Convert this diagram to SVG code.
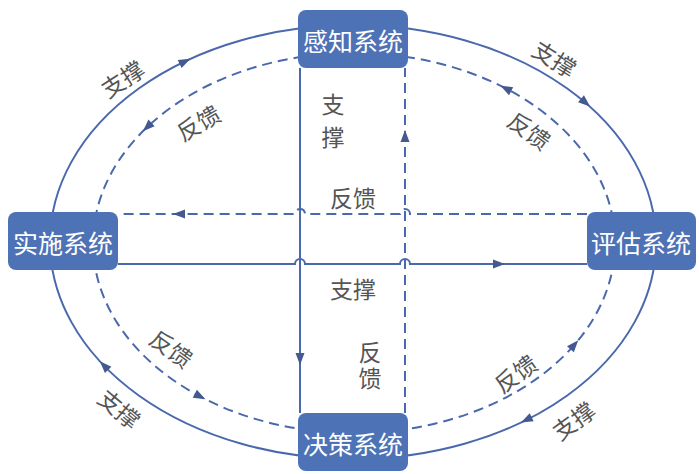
<svg xmlns="http://www.w3.org/2000/svg" width="699" height="474" viewBox="0 0 699 474">
<defs>
<style>
.solid{fill:none;stroke:#4a69ad;stroke-width:2}
.dash{fill:none;stroke:#4a69ad;stroke-width:2;stroke-dasharray:10 6}
.ah{fill:#44598f}
.node rect{fill:#4d72b6;stroke:none}
.node text{fill:#ffffff;font-family:"Noto Sans CJK SC","Noto Sans",sans-serif;font-size:25px;text-anchor:middle;dominant-baseline:central}
.lbl{fill:#555555;font-family:"Noto Sans CJK SC","Noto Sans",sans-serif;font-size:23px;text-anchor:middle;dominant-baseline:central}
.vert{fill:#555555;font-family:"Noto Sans CJK SC","Noto Sans",sans-serif;font-size:23px;text-anchor:middle;writing-mode:vertical-rl}
</style>
<polygon id="arr" points="5,0 -7,-4.5 -7,4.5"/>
</defs>
<g id="connectors">
<ellipse class="solid" cx="353" cy="242" rx="303" ry="217"/>
<ellipse class="dash" cx="354" cy="243" rx="261" ry="190"/>
<line class="solid" x1="300" y1="68" x2="300" y2="413"/>
<line class="dash" x1="405" y1="413" x2="405" y2="68"/>
<path class="dash" d="M587,214 H410 A5,5 0 0 0 400,214 H305 A5,5 0 0 0 295,214 H118"/>
<path class="solid" d="M118,264 H295 A5,5 0 0 1 305,264 H400 A5,5 0 0 1 410,264 H587"/>
<use href="#arr" class="ah" transform="translate(186,61) rotate(-25.3)"/>
<use href="#arr" class="ah" transform="translate(586.3,103.3) rotate(40.8)"/>
<use href="#arr" class="ah" transform="translate(525.4,420.4) rotate(153.6)"/>
<use href="#arr" class="ah" transform="translate(103.3,364.8) rotate(-133.8)"/>
<use href="#arr" class="ah" transform="translate(146.5,127.7) rotate(136.4)"/>
<use href="#arr" class="ah" transform="translate(504.9,88) rotate(-152.7)"/>
<use href="#arr" class="ah" transform="translate(575,344) rotate(-49.3)"/>
<use href="#arr" class="ah" transform="translate(201,397) rotate(27.8)"/>
<use href="#arr" class="ah" transform="translate(300,360) rotate(90)"/>
<use href="#arr" class="ah" transform="translate(405,135) rotate(-90)"/>
<use href="#arr" class="ah" transform="translate(178,214) rotate(180)"/>
<use href="#arr" class="ah" transform="translate(500,264)"/>
</g>
<g id="labels">
<text class="lbl" transform="translate(122,78) rotate(-33)">支撑</text>
<text class="lbl" transform="translate(198,122) rotate(-30)">反馈</text>
<text class="lbl" transform="translate(555,58) rotate(32)">支撑</text>
<text class="lbl" transform="translate(530,130) rotate(36)">反馈</text>
<text class="lbl" transform="translate(172,348) rotate(36)">反馈</text>
<text class="lbl" transform="translate(120,408) rotate(40)">支撑</text>
<text class="lbl" transform="translate(515,373) rotate(-36)">反馈</text>
<text class="lbl" transform="translate(573,420) rotate(-36)">支撑</text>
<text class="vert" x="333" y="126" letter-spacing="10">支撑</text>
<text class="lbl" x="353" y="197">反馈</text>
<text class="lbl" x="353" y="288">支撑</text>
<text class="vert" x="370" y="367" letter-spacing="3">反馈</text>
</g>
<g id="node-perception" class="node">
<rect x="298" y="10" width="110" height="58" rx="8"/>
<text x="353" y="40">感知系统</text>
</g>
<g id="node-implementation" class="node">
<rect x="8" y="212" width="110" height="58" rx="8"/>
<text x="63" y="242">实施系统</text>
</g>
<g id="node-evaluation" class="node">
<rect x="587" y="212" width="109" height="58" rx="8"/>
<text x="641" y="242">评估系统</text>
</g>
<g id="node-decision" class="node">
<rect x="298" y="413" width="110" height="58" rx="8"/>
<text x="353" y="443">决策系统</text>
</g>
</svg>
